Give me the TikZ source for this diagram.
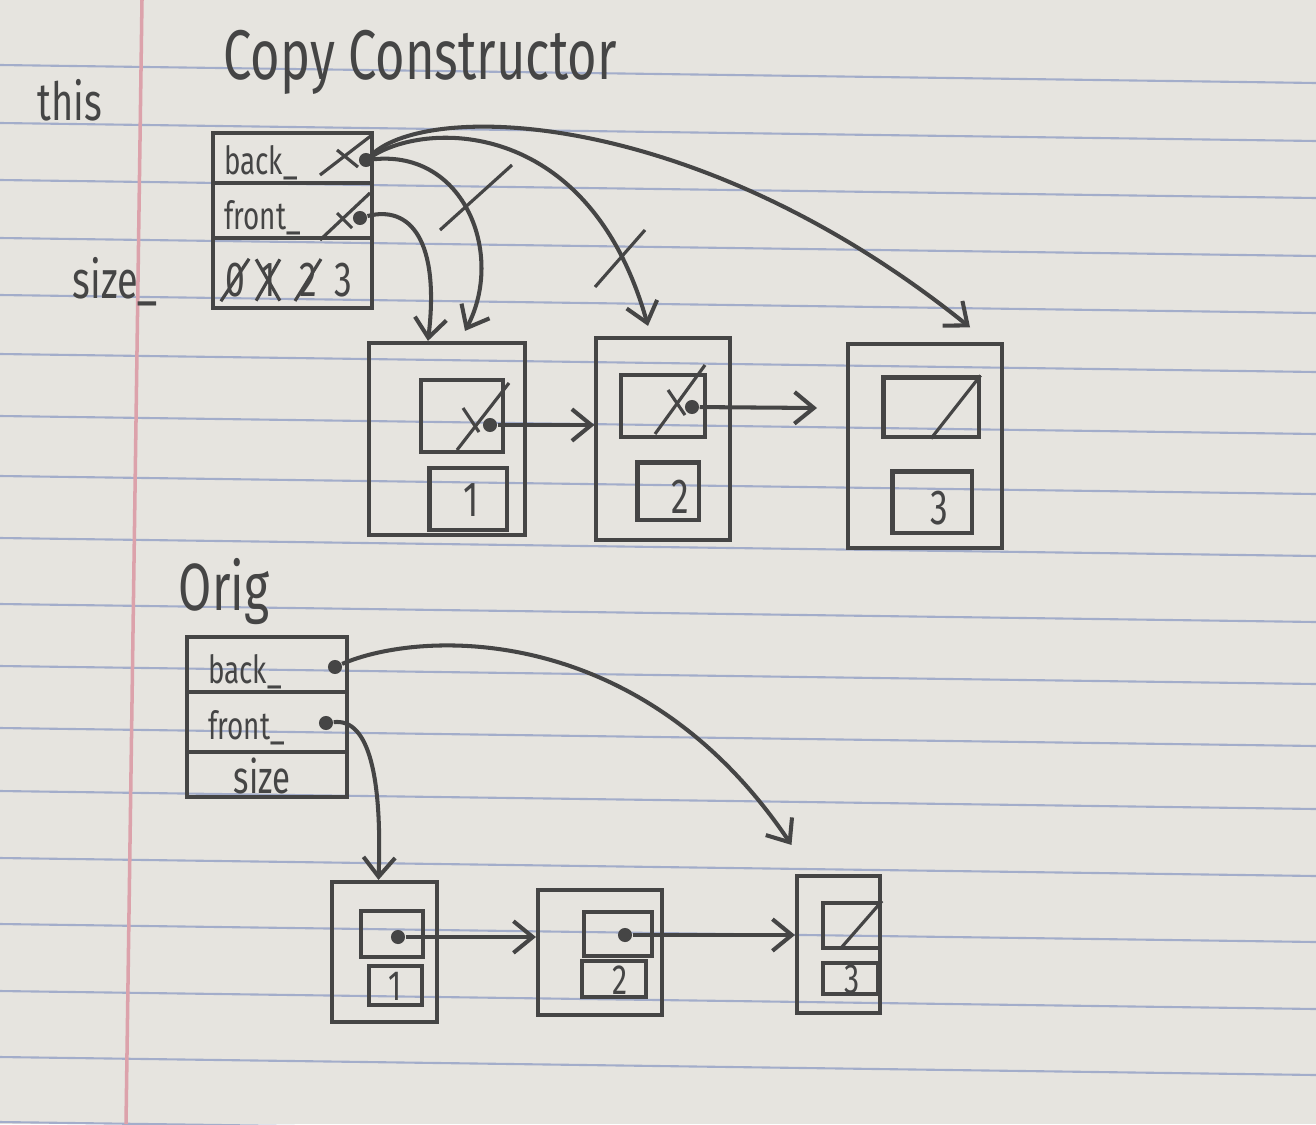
\documentclass[tikz,border=0pt]{standalone}
\usepackage{fontspec}
\newfontfamily\hand[FakeStretch=0.72]{Fira Sans}
\usetikzlibrary{arrows.meta}

\definecolor{paper}{HTML}{E6E4DF}
\definecolor{ruling}{HTML}{A3ADCA}
\definecolor{margin}{HTML}{DCA2AB}
\definecolor{pencil}{HTML}{454545}

\tikzset{
  pen/.style={draw=pencil, line width=1.15pt},
  cell/.style={pen, rectangle, inner sep=0pt},
  link/.style={pen, -{Straight Barb[length=5.5pt,width=9pt]}},
  ptr/.style={circle, fill=pencil, inner sep=0pt, minimum size=4pt},
  lbl/.style={text=pencil, inner sep=1pt, font=\hand\fontsize{11}{13}\selectfont},
  digit/.style={lbl, font=\hand\fontsize{14}{16}\selectfont},
}

\begin{document}
\begin{tikzpicture}[x=0.01cm,y=-0.01cm]
% paper
\fill[paper] (0,0) rectangle (1316,1124);
\useasboundingbox (0,0) rectangle (1316,1124);
\foreach \ry in {65,123,180,238,295,354,416,476,538,604,666,728,791,858,924,991,1057,1122}
  \draw[ruling, line width=0.6pt] (0,\ry) -- (1316,\ry+18);
\draw[margin, line width=1pt] (142,0) -- (126,1124);

% ---- copy (this) ----
\node[lbl, font=\hand\fontsize{20}{24}\selectfont] (title) at (420,62) {Copy Constructor};
\node[lbl, font=\hand\fontsize{15}{18}\selectfont] (this) at (70,100) {this};
\node[lbl, font=\hand\fontsize{15}{18}\selectfont] (sizelbl) at (115,282) {size\_};

\node[cell, minimum width=1.59cm, minimum height=0.50cm] (tback) at (292.5,158) {};
\node[cell, minimum width=1.59cm, minimum height=0.55cm] (tfront) at (292.5,210.5) {};
\node[cell, minimum width=1.59cm, minimum height=0.70cm] (tsize) at (292.5,273) {};
\node[lbl, anchor=west] (tbacklbl) at (220,163) {back\_};
\node[lbl, anchor=west] (tfrontlbl) at (220,218) {front\_};
\draw[pen, line width=0.9pt] (320,175) -- (372,135) (337,150) -- (358,167);
\draw[pen, line width=0.9pt] (320,240) -- (370,193) (337,213) -- (352,228);
\node[ptr] (tbackp) at (366,160) {};
\node[ptr] (tfrontp) at (360,218) {};

\node[digit] (tsz0) at (235,280) {0};
\node[digit] (tsz1) at (268,280) {1};
\node[digit] (tsz2) at (308,280) {2};
\node[digit] (tsz3) at (343,280) {3};
\draw[pen, line width=0.9pt] (tsz0.south west) -- (tsz0.north east);
\draw[pen, line width=0.9pt] (tsz1.south west) -- (tsz1.north east) (tsz1.north west) -- (tsz1.south east);
\draw[pen, line width=0.9pt] (tsz2.south west) -- (tsz2.north east);

% copied list nodes
\node[cell, minimum width=1.55cm, minimum height=1.92cm] (tn1) at (447,439) {};
\node[cell, minimum width=0.82cm, minimum height=0.72cm] (tp1) at (462,416) {};
\node[cell, minimum width=0.77cm, minimum height=0.62cm] (td1) at (468,499) {};
\node[digit] (tv1) at (471,500) {1};

\node[cell, minimum width=1.33cm, minimum height=2.02cm] (tn2) at (663,439) {};
\node[cell, minimum width=0.84cm, minimum height=0.62cm] (tp2) at (663,406) {};
\node[cell, minimum width=0.61cm, minimum height=0.57cm] (td2) at (668,491) {};
\node[digit] (tv2) at (680,497) {2};

\node[cell, minimum width=1.53cm, minimum height=2.03cm] (tn3) at (925,446) {};
\node[cell, minimum width=0.95cm, minimum height=0.59cm] (tp3) at (931,407) {};
\node[cell, minimum width=0.79cm, minimum height=0.61cm] (td3) at (932,502) {};
\node[digit] (tv3) at (939,508) {3};

% null marks and crossed pointers
\draw[pen, line width=0.9pt] (457,450) -- (509,383) (463,408) -- (479,432);
\draw[pen, line width=0.9pt] (655,434) -- (705,365) (668,390) -- (685,415);
\draw[pen, line width=0.9pt] (tp3.south) -- (tp3.north east);
\node[ptr] (tdot1) at (490,425) {};
\node[ptr] (tdot2) at (692,407) {};
\coordinate (tgap) at (817,408);
\draw[link] (tdot1) -- (tdot1 -| tn2.west);
\draw[link] (tdot2) -- (tgap);

% pointers out of this
\draw[link] (tfrontp) .. controls (410,205) and (440,240) .. ([xshift=-0.19cm]tn1.north);
\draw[link] (tbackp) .. controls (465,150) and (505,255) .. ([xshift=0.18cm,yshift=0.1cm]tn1.north);
\draw[link] (tbackp) .. controls (430,120) and (590,120) .. ([xshift=-0.15cm,yshift=0.1cm]tn2.north);
\draw[link] (tbackp) .. controls (430,100) and (700,110) .. ([xshift=0.45cm,yshift=0.15cm]tn3.north);
\draw[pen, line width=0.9pt] (440,230) -- (512,165);
\draw[pen, line width=0.9pt] (595,287) -- (645,230);

% ---- original ----
\node[lbl, font=\hand\fontsize{19}{22}\selectfont] (orig) at (224,592) {Orig};
\node[cell, minimum width=1.60cm, minimum height=0.55cm] (oback) at (267,664.5) {};
\node[cell, minimum width=1.60cm, minimum height=0.60cm] (ofront) at (267,722) {};
\node[cell, minimum width=1.60cm, minimum height=0.45cm] (osize) at (267,774.5) {};
\node[lbl, anchor=west] (obacklbl) at (204,672) {back\_};
\node[lbl, anchor=west] (ofrontlbl) at (204,728) {front\_};
\node[lbl, font=\hand\fontsize{13}{15}\selectfont] (osizelbl) at (262,776) {size};
\node[ptr] (obackp) at (335,667) {};
\node[ptr] (ofrontp) at (326,723) {};

\node[cell, minimum width=1.05cm, minimum height=1.40cm] (bn1) at (384.5,952) {};
\node[cell, minimum width=0.62cm, minimum height=0.46cm] (bp1) at (392,934) {};
\node[cell, minimum width=0.53cm, minimum height=0.39cm] (bd1) at (395.5,985.5) {};
\node[lbl, font=\hand\fontsize{12}{14}\selectfont] (bv1) at (395,986) {1};

\node[cell, minimum width=1.24cm, minimum height=1.25cm] (bn2) at (600,952.5) {};
\node[cell, minimum width=0.68cm, minimum height=0.44cm] (bp2) at (618,934) {};
\node[cell, minimum width=0.64cm, minimum height=0.36cm] (bd2) at (614,979) {};
\node[lbl, font=\hand\fontsize{12}{14}\selectfont] (bv2) at (620,980) {2};

\node[cell, minimum width=0.83cm, minimum height=1.37cm] (bn3) at (838.5,944.5) {};
\node[cell, minimum width=0.57cm, minimum height=0.45cm] (bp3) at (851.5,925.5) {};
\node[cell, minimum width=0.55cm, minimum height=0.31cm] (bd3) at (850.5,978.5) {};
\node[lbl, font=\hand\fontsize{12}{14}\selectfont] (bv3) at (852,979) {3};
\draw[pen, line width=0.9pt] (841,948) -- (bp3.north east);

\node[ptr] (bdot1) at (398,937) {};
\node[ptr] (bdot2) at (625,935) {};
\draw[link] (bdot1) -- (bdot1 -| bn2.west);
\draw[link] (bdot2) -- (bdot2 -| bn3.west);

\draw[link] (ofrontp) .. controls (370,718) and (382,780) .. ([xshift=-0.06cm]bn1.north);
\draw[link] (obackp) .. controls (420,630) and (640,620) .. ([xshift=-0.47cm,yshift=0.29cm]bn3.north);
\end{tikzpicture}
\end{document}
